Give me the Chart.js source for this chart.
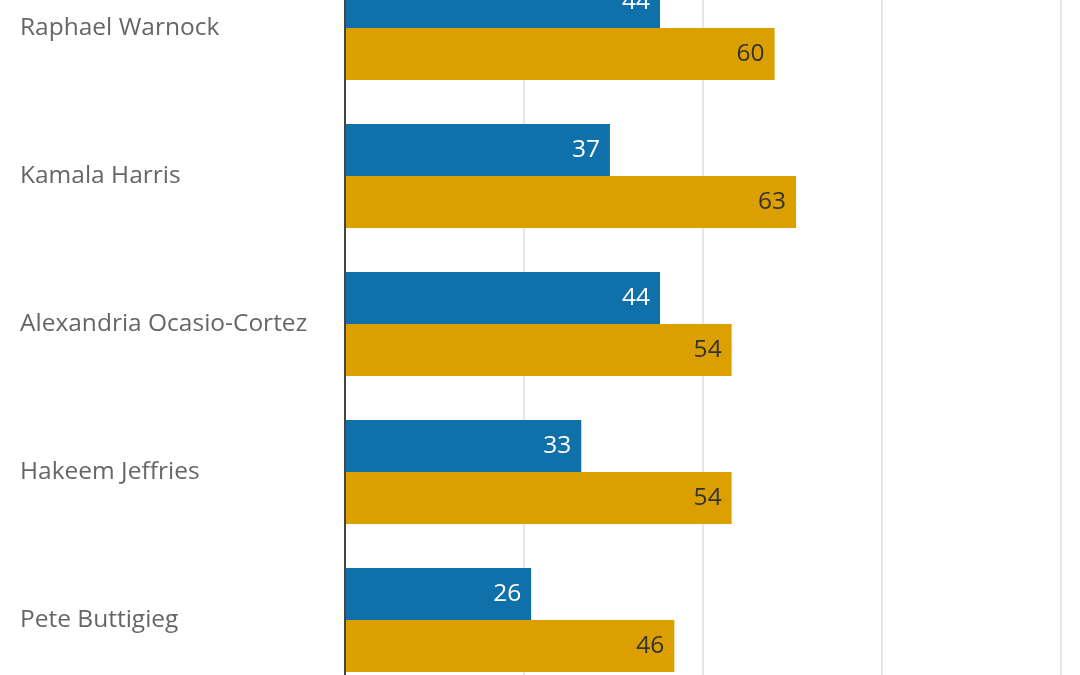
<!DOCTYPE html>
<html>
<head>
<meta charset="utf-8">
<script src="https://cdn.jsdelivr.net/npm/chart.js@4/dist/chart.umd.min.js"></script>
<style>
  html, body { margin: 0; padding: 0; background: #fff; overflow: hidden; width: 1080px; height: 675px; }
  #wrap { position: absolute; left: 0; top: -46px; width: 1080px; height: 740px; }
</style>
</head>
<body>
<div id="wrap"><canvas id="barchart"></canvas></div>
<script>
// chart data
var names = ['Raphael Warnock', 'Kamala Harris', 'Alexandria Ocasio-Cortez', 'Hakeem Jeffries', 'Pete Buttigieg'];
var blueValues = [44, 37, 44, 33, 26];
var goldValues = [60, 63, 54, 54, 46];
var xTicks = [0, 25, 50, 75, 100];

var FONT = '"Open Sans", sans-serif';

// draws the number inside the end of each bar
var barLabels = {
  id: 'barLabels',
  afterDatasetsDraw: function(chart) {
    var ctx = chart.ctx;
    ctx.save();
    ctx.font = '24.5px ' + FONT;
    ctx.textAlign = 'right';
    ctx.textBaseline = 'middle';
    chart.data.datasets.forEach(function(ds, i) {
      var meta = chart.getDatasetMeta(i);
      meta.data.forEach(function(bar, j) {
        ctx.fillStyle = ds.labelColor;
        ctx.fillText(ds.data[j], bar.x - 10, bar.y);
      });
    });
    ctx.restore();
  }
};

(function() {
  var ctx = document.getElementById('barchart').getContext('2d');
  new Chart(ctx, {
    type: 'bar',
    data: {
      labels: names,
      datasets: [{
        data: blueValues,
        backgroundColor: '#1070a9',
        labelColor: '#ffffff',
        borderWidth: 0
      }, {
        data: goldValues,
        backgroundColor: '#dba000',
        labelColor: '#333333',
        borderWidth: 0
      }]
    },
    options: {
      indexAxis: 'y',
      responsive: true,
      maintainAspectRatio: false,
      animation: false,
      layout: { padding: { left: 20, right: 19, top: 0, bottom: 0 } },
      datasets: { bar: { categoryPercentage: 0.703, barPercentage: 1 } },
      scales: {
        x: {
          min: 0,
          max: 100,
          afterBuildTicks: function(scale) {
            scale.ticks = xTicks.map(function(v) { return { value: v }; });
          },
          afterFit: function(scale) { scale.height = 0; },
          ticks: { display: false },
          grid: { color: '#e6e6e6', lineWidth: 2, drawTicks: false },
          border: { display: false }
        },
        y: {
          afterFit: function(scale) {
            scale.width = 325;
            scale.paddingTop = 0;
            scale.paddingBottom = 0;
          },
          ticks: {
            crossAlign: 'far',
            color: '#666666',
            font: { family: FONT, size: 24.5 }
          },
          grid: { display: false, drawTicks: false },
          border: { color: '#444444', width: 2 }
        }
      },
      plugins: {
        legend: { display: false },
        tooltip: { enabled: false }
      }
    },
    plugins: [barLabels]
  });
})();
</script>
</body>
</html>
